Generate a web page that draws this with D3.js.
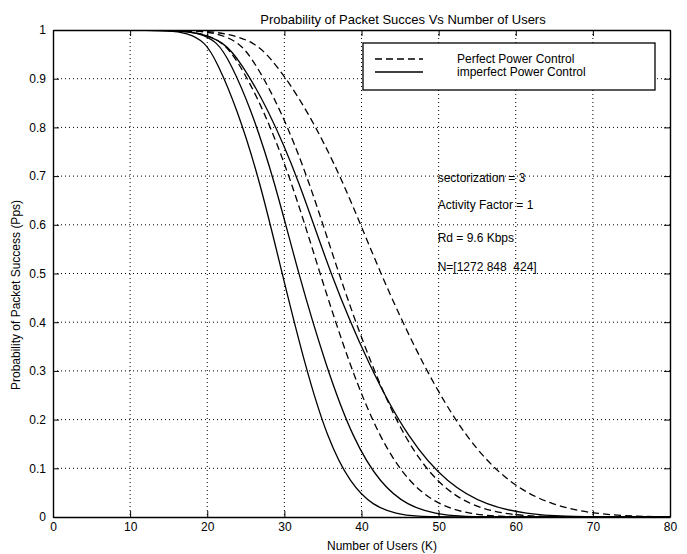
<!DOCTYPE html>
<html>
<head>
<meta charset="utf-8">
<script src="https://cdn.jsdelivr.net/npm/d3@7"></script>
<style>
  body { margin: 0; background: #fff; }
  svg { display: block; }
  text { font-family: "Liberation Sans", Arial, Helvetica, sans-serif; fill: #000; white-space: pre; }
</style>
</head>
<body>
<div id="viz"></div>
<script>
// axis ticks
var xTicks = [0, 10, 20, 30, 40, 50, 60, 70, 80];
var yTicks = [0, 0.1, 0.2, 0.3, 0.4, 0.5, 0.6, 0.7, 0.8, 0.9, 1];
var yTickLabels = ['0', '0.1', '0.2', '0.3', '0.4', '0.5', '0.6', '0.7', '0.8', '0.9', '1'];

// curves: [users K, Pps]
var imperfect1 = [[0, 1], [10, 1], [15.2, 0.999], [17.3, 0.994], [19.7, 0.977], [21.3, 0.933], [23.8, 0.841],
  [26.8, 0.692], [29.7, 0.5], [32.7, 0.309], [35.6, 0.159], [38.6, 0.067], [41.5, 0.023], [44.5, 0.006],
  [47.4, 0.001], [50.4, 0], [80, 0]];
var imperfect2 = [[0, 1], [10, 1], [16.6, 0.999], [18.8, 0.994], [21.3, 0.977], [23.0, 0.933], [25.6, 0.841],
  [28.7, 0.692], [31.8, 0.5], [35.4, 0.309], [38.9, 0.159], [42.5, 0.067], [46.0, 0.023], [49.6, 0.006],
  [53.1, 0.001], [56.7, 0], [80, 0]];
var imperfect3 = [[0, 1], [10, 1], [16.1, 0.999], [18.9, 0.994], [22.1, 0.977], [24.4, 0.933], [27.8, 0.841],
  [31.9, 0.692], [35.9, 0.5], [41.0, 0.309], [46.1, 0.159], [51.2, 0.067], [56.3, 0.023], [61.4, 0.006],
  [66.5, 0.001], [71.6, 0], [80, 0]];
var perfect1 = [[0, 1], [10, 1], [16.5, 0.999], [19.1, 0.994], [22.0, 0.977], [24.1, 0.933], [27.2, 0.841],
  [30.9, 0.692], [34.6, 0.5], [38.5, 0.309], [42.4, 0.159], [46.3, 0.067], [50.2, 0.023], [54.1, 0.006],
  [58.0, 0.001], [61.9, 0], [80, 0]];
var perfect2 = [[0, 1], [10, 1], [18.4, 0.999], [21.0, 0.994], [24.1, 0.977], [26.2, 0.933], [29.4, 0.841],
  [33.2, 0.692], [37.0, 0.5], [41.3, 0.309], [45.6, 0.159], [49.9, 0.067], [54.2, 0.023], [58.5, 0.006],
  [62.8, 0.001], [67.1, 0], [80, 0]];
var perfect3 = [[0, 1], [10, 1], [18.9, 0.999], [22.2, 0.994], [26.1, 0.977], [28.8, 0.933], [32.8, 0.841],
  [37.6, 0.692], [42.4, 0.5], [48.0, 0.309], [53.6, 0.159], [59.2, 0.067], [64.8, 0.023], [70.4, 0.006],
  [76.0, 0.001], [80, 0.0004]];

var legendLabels = ['Perfect Power Control', 'imperfect Power Control'];
var notes = ['sectorization = 3', 'Activity Factor = 1', 'Rd = 9.6 Kbps', 'N=[1272 848  424]'];
var noteLevels = [0.696, 0.64, 0.573, 0.513];

(function () {
  'use strict';

  var W = 687, H = 554;
  var m = { left: 53, right: 17, top: 30, bottom: 37 };
  var w = W - m.left - m.right, h = H - m.top - m.bottom;

  var svg = d3.select('#viz').append('svg')
    .attr('width', W)
    .attr('height', H);

  var x = d3.scaleLinear().domain([0, 80]).range([0, w]);
  var y = d3.scaleLinear().domain([0, 1]).range([h, 0]);

  var g = svg.append('g').attr('transform', 'translate(' + m.left + ',' + m.top + ')');

  // dotted grid
  g.append('g').selectAll('line')
    .data(xTicks.slice(1, -1))
    .enter().append('line')
    .attr('x1', function (d) { return x(d); })
    .attr('x2', function (d) { return x(d); })
    .attr('y1', 0).attr('y2', h)
    .attr('stroke', '#000').attr('stroke-width', 1)
    .attr('stroke-dasharray', '1,3');
  g.append('g').selectAll('line')
    .data(yTicks.slice(1, -1))
    .enter().append('line')
    .attr('y1', function (d) { return y(d); })
    .attr('y2', function (d) { return y(d); })
    .attr('x1', 0).attr('x2', w)
    .attr('stroke', '#000').attr('stroke-width', 1)
    .attr('stroke-dasharray', '1,3');

  // curves
  g.append('clipPath').attr('id', 'clip')
    .append('rect').attr('width', w).attr('height', h);

  var line = d3.line()
    .x(function (d) { return x(d[0]); })
    .y(function (d) { return y(d[1]); })
    .curve(d3.curveBasis);

  var series = [
    { pts: imperfect1, dash: null },
    { pts: imperfect2, dash: null },
    { pts: imperfect3, dash: null },
    { pts: perfect1, dash: '7,4' },
    { pts: perfect2, dash: '7,4' },
    { pts: perfect3, dash: '7,4' }
  ];

  g.append('g').attr('clip-path', 'url(#clip)')
    .selectAll('path')
    .data(series)
    .enter().append('path')
    .attr('d', function (d) { return line(d.pts); })
    .attr('fill', 'none')
    .attr('stroke', '#000')
    .attr('stroke-width', 1.3)
    .attr('stroke-dasharray', function (d) { return d.dash; });

  // axes, ticks inside on all sides
  var fontSize = '12px';
  var bottom = g.append('g').attr('transform', 'translate(0,' + h + ')')
    .call(d3.axisBottom(x).tickValues(xTicks).tickSize(-6).tickSizeOuter(0).tickPadding(5));
  var left = g.append('g')
    .call(d3.axisLeft(y).tickValues(yTicks).tickSize(-6).tickSizeOuter(0).tickPadding(7)
      .tickFormat(function (d, i) { return yTickLabels[i]; }));
  var top = g.append('g')
    .call(d3.axisTop(x).tickValues(xTicks).tickSize(-6).tickSizeOuter(0).tickFormat(''));
  var right = g.append('g').attr('transform', 'translate(' + w + ',0)')
    .call(d3.axisRight(y).tickValues(yTicks).tickSize(-6).tickSizeOuter(0).tickFormat(''));

  [bottom, left, top, right].forEach(function (a) {
    a.attr('font-family', null);
    a.select('.domain').attr('stroke', '#000').attr('stroke-width', 1.4);
    a.selectAll('.tick line').attr('stroke', '#000').attr('stroke-width', 1);
    a.selectAll('text').attr('font-size', fontSize).attr('fill', '#000');
  });

  // legend
  var lg = g.append('g').attr('transform', 'translate(' + (363 - m.left) + ',' + (43 - m.top) + ')');
  lg.append('rect')
    .attr('width', 292).attr('height', 47)
    .attr('fill', '#fff').attr('stroke', '#000').attr('stroke-width', 1.3);
  var legendDash = ['7,4', null];
  lg.selectAll('.ll')
    .data(legendLabels)
    .enter().append('line')
    .attr('x1', 12).attr('x2', 60)
    .attr('y1', function (d, i) { return 16 + i * 13; })
    .attr('y2', function (d, i) { return 16 + i * 13; })
    .attr('stroke', '#000').attr('stroke-width', 1.3)
    .attr('stroke-dasharray', function (d, i) { return legendDash[i]; });
  lg.selectAll('.lt')
    .data(legendLabels)
    .enter().append('text')
    .attr('x', 94)
    .attr('y', function (d, i) { return 20 + i * 13; })
    .attr('font-size', '12px')
    .text(function (d) { return d; });

  // annotations
  g.selectAll('.note')
    .data(notes)
    .enter().append('text')
    .attr('x', x(50) - 1)
    .attr('y', function (d, i) { return y(noteLevels[i]) + 4; })
    .attr('font-size', '12px')
    .text(function (d) { return d; });

  // titles
  svg.append('text')
    .attr('x', 403).attr('y', 24)
    .attr('text-anchor', 'middle')
    .attr('font-size', '13px')
    .text('Probability of Packet Succes Vs Number of Users');
  svg.append('text')
    .attr('x', 382).attr('y', 550)
    .attr('text-anchor', 'middle')
    .attr('font-size', '12px')
    .text('Number of Users (K)');
  svg.append('text')
    .attr('transform', 'translate(20,295) rotate(-90)')
    .attr('text-anchor', 'middle')
    .attr('font-size', '12px')
    .text('Probability of Packet Success (Pps)');
}());
</script>
</body>
</html>
